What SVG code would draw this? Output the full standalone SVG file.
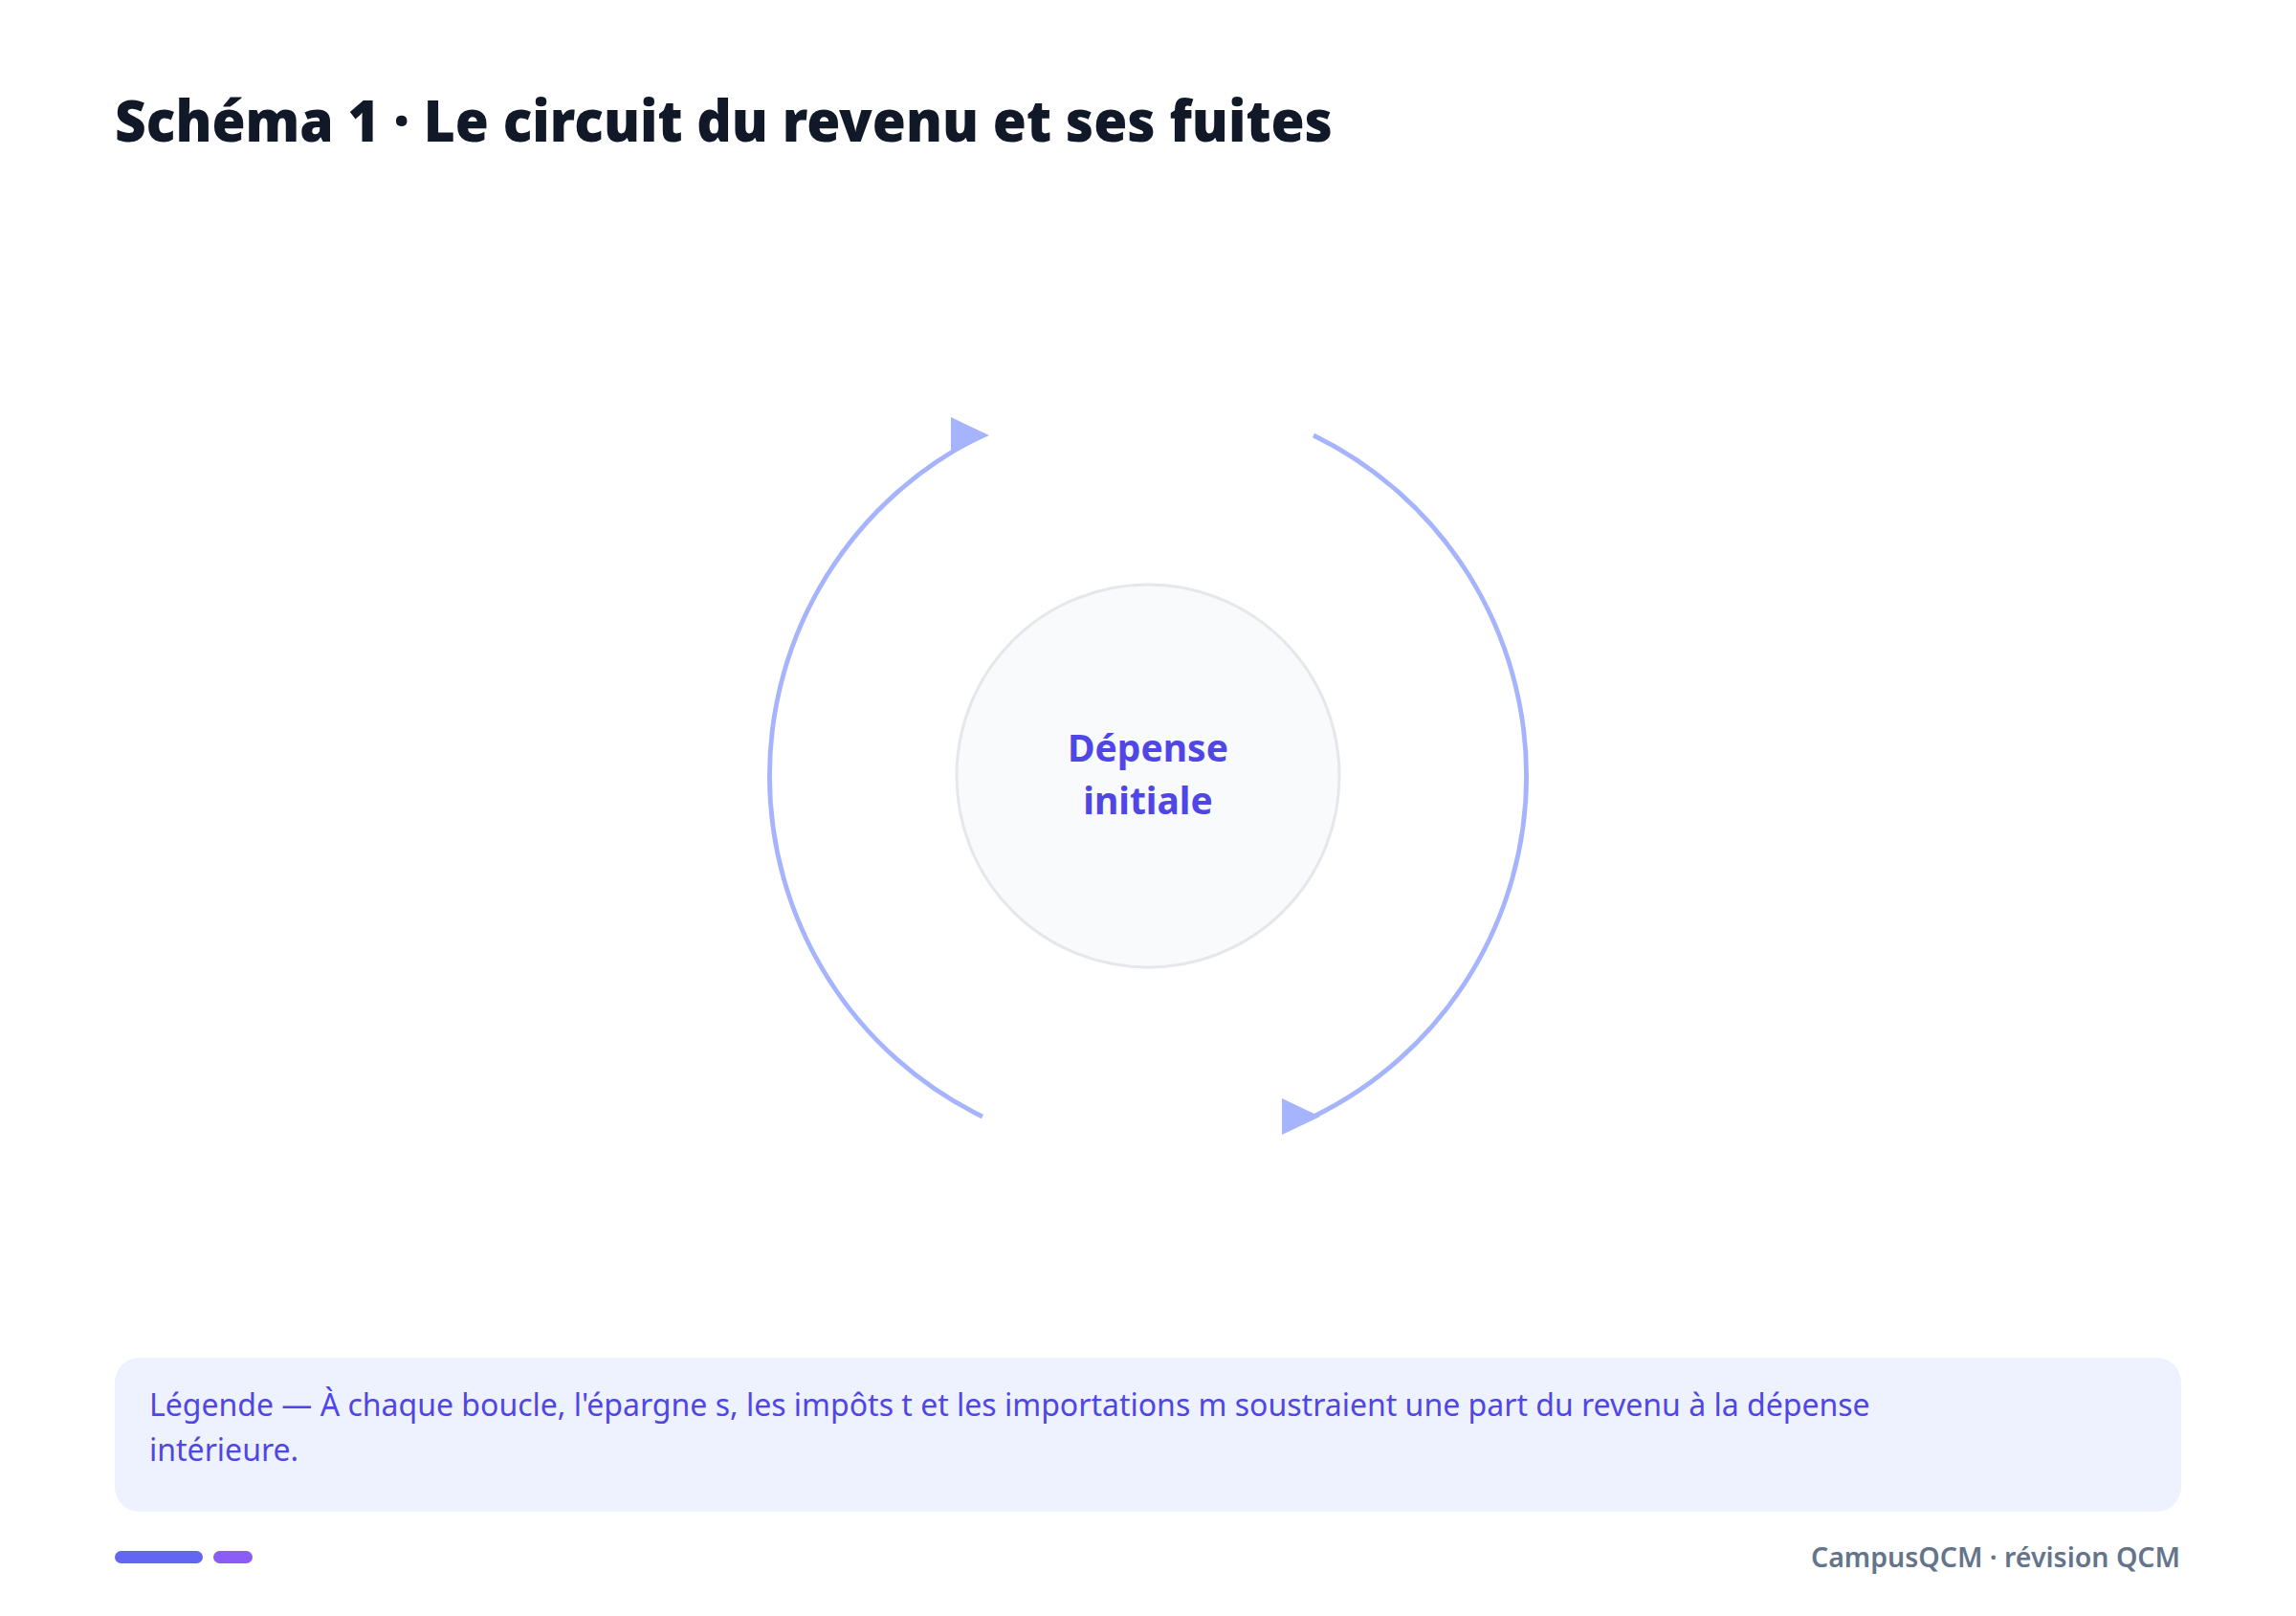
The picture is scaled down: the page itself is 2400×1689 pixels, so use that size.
<svg xmlns="http://www.w3.org/2000/svg" width="2400" height="1689" viewBox="0 0 2400 1689">
<style>
.title{font-family:"Noto Sans","Liberation Sans",sans-serif;font-weight:900;font-size:60px;fill:#111827}
.node-label{font-family:"Noto Sans","Liberation Sans",sans-serif;font-weight:700;font-size:39px;fill:#4f46e5;text-anchor:middle}
.legend{font-family:"Noto Sans","Liberation Sans",sans-serif;font-size:32px;fill:#4f46e5}
.footer{font-family:"Noto Sans","Liberation Sans",sans-serif;font-weight:600;font-size:28.5px;fill:#64748b;text-anchor:end}
.flow{fill:none;stroke:#a5b4fc;stroke-width:4.8}
</style>
<defs>
<marker id="arrow" markerUnits="userSpaceOnUse" viewBox="0 0 40 40" markerWidth="40" markerHeight="40" refX="33" refY="20" orient="0">
<path d="M0,1 L40,20 L0,39 Z" fill="#a5b4fc"/>
</marker>
</defs>
<rect width="2400" height="1689" fill="#ffffff"/>
<text class="title" x="120" y="148" textLength="1273" lengthAdjust="spacingAndGlyphs">Schéma 1 · Le circuit du revenu et ses fuites</text>
<g id="connectors">
<path class="flow" d="M1027,1167 A396,396 0 0 1 1027,455" marker-end="url(#arrow)"/>
<path class="flow" d="M1373,455 A396,396 0 0 1 1373,1167" marker-end="url(#arrow)"/>
</g>
<g id="node-depense">
<circle cx="1200" cy="811" r="200" fill="#f8fafc" stroke="#e5e7eb" stroke-width="3"/>
<text class="node-label" x="1200" y="796">Dépense</text>
<text class="node-label" x="1200" y="851">initiale</text>
</g>
<g id="legend">
<rect x="120" y="1419" width="2160" height="161" rx="26" fill="#eef2ff"/>
<text class="legend" x="156" y="1480">Légende — À chaque boucle, l'épargne s, les impôts t et les importations m soustraient une part du revenu à la dépense</text>
<text class="legend" x="156" y="1527">intérieure.</text>
</g>
<g id="footer">
<rect x="120" y="1621" width="92" height="13" rx="6.5" fill="#6366f1"/>
<rect x="223" y="1621" width="41" height="13" rx="6.5" fill="#8b5cf6"/>
<text class="footer" x="2279" y="1638">CampusQCM · révision QCM</text>
</g>
</svg>
